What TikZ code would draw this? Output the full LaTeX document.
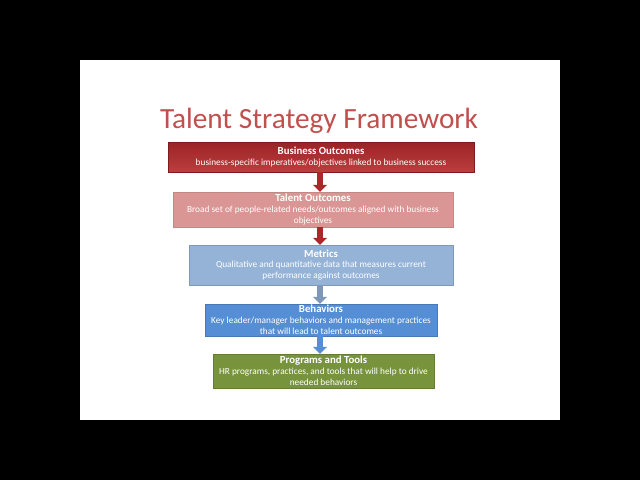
\documentclass[tikz,border=0pt]{standalone}
\usepackage{fontspec}
\setmainfont{Carlito}
\usetikzlibrary{arrows.meta,calc}
\definecolor{titlered}{RGB}{192,80,77}
\definecolor{bizdark}{RGB}{155,35,38}
\definecolor{bizlight}{RGB}{188,62,62}
\definecolor{talentpink}{RGB}{217,150,148}
\definecolor{metricblue}{RGB}{149,179,215}
\definecolor{behavblue}{RGB}{85,142,213}
\definecolor{progreen}{RGB}{119,147,60}
\definecolor{arrowred}{RGB}{170,40,42}
\tikzset{
  box/.style={rectangle, inner sep=0pt, text=white, align=center, font=\fontsize{9.3}{10.8}\selectfont},
  blk/.style={-{Triangle[width=14pt,length=7pt]}, line width=6pt},
}
\newcommand{\hd}[1]{{\fontsize{10.8}{10.8}\selectfont\bfseries #1}}
\begin{document}
\begin{tikzpicture}[x=1pt,y=1pt]
\fill[black] (0,0) rectangle (640,-480);
\useasboundingbox (0,0) rectangle (640,-480);
\fill[white] (80,-60) rectangle (560,-420);
\node[text=titlered, font=\fontsize{29.3}{32}\selectfont] (title) at (319,-121) {Talent Strategy Framework};

\node[box, minimum width=306pt, minimum height=30pt, top color=bizdark, bottom color=bizlight, draw=bizdark!80!black, line width=0.4pt] (b1) at (321,-157)
 {\hd{Business Outcomes}\\business-specific imperatives/objectives linked to business success};
\node[box, minimum width=280pt, minimum height=35pt, fill=talentpink, draw=talentpink!90!black, line width=0.4pt] (b2) at (313,-209.5)
 {\hd{Talent Outcomes}\\Broad set of people-related needs/outcomes aligned with business\\objectives};
\node[box, minimum width=264pt, minimum height=40pt, fill=metricblue, draw=metricblue!85!black, line width=0.4pt] (b3) at (321,-265)
 {\hd{Metrics}\\Qualitative and quantitative data that measures current\\performance against outcomes};
\node[box, minimum width=232pt, minimum height=32pt, fill=behavblue, draw=behavblue!85!black, line width=0.4pt] (b4) at (321,-320)
 {\hd{Behaviors}\\Key leader/manager behaviors and management practices\\that will lead to talent outcomes};
\node[box, minimum width=221pt, minimum height=34pt, fill=progreen, draw=progreen!85!black, line width=0.4pt] (b5) at (323.5,-371)
 {\hd{Programs and Tools}\\HR programs, practices, and tools that will help to drive\\needed behaviors};

\coordinate (ax) at (320,0);
\draw[blk, arrowred] (b1.south -| ax) -- (b2.north -| ax);
\draw[blk, arrowred] (b2.south -| ax) -- (b3.north -| ax);
\draw[blk, metricblue!85!black] (b3.south -| ax) -- (b4.north -| ax);
\draw[blk, behavblue] (b4.south -| ax) -- (b5.north -| ax);
\end{tikzpicture}
\end{document}
